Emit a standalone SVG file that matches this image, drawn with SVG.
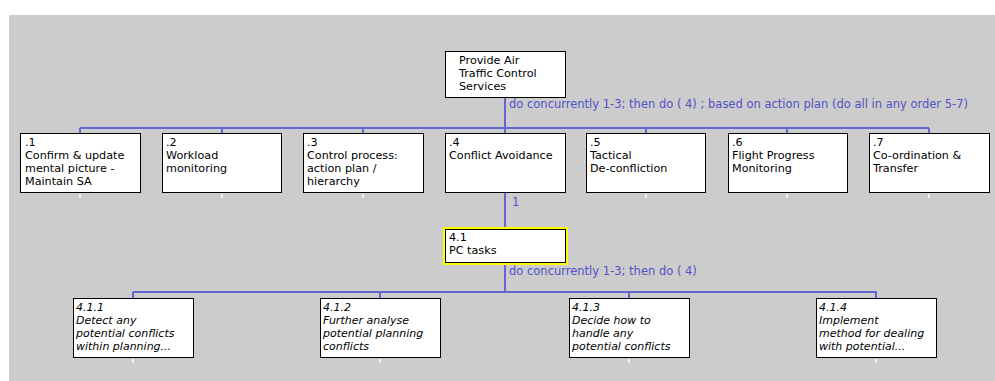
<svg xmlns="http://www.w3.org/2000/svg" width="995" height="381" viewBox="0 0 995 381">
<defs>
<style>
.bg{fill:#cccccc}
.box{fill:#ffffff;stroke:#000000;stroke-width:1}
.t{font-family:"DejaVu Sans",Verdana,sans-serif;font-size:11.2px;fill:#000000}
.it{font-style:italic;font-size:11px}
.lbl{font-family:"DejaVu Sans",Verdana,sans-serif;font-size:11.5px;fill:#5252c8}
.c{fill:none;stroke:#6666d0;stroke-width:2}
.tick{fill:#f2f2f2}
</style>
</defs>
<rect class="bg" x="9" y="15" width="986" height="366"/>
<g id="connectors">
<path class="c" d="M505 98V128M80 128H929M80 128V133M222 128V133M363 128V133M505 128V133M646 128V133M787 128V133M929 128V133"/>
<path class="c" d="M505 193V229"/>
<path class="c" d="M505 264V292M133 292H877M133 292V298M380 292V298M629 292V298M876 292V298"/>
<text class="lbl" x="509" y="108">do concurrently 1-3; then do ( 4) ; based on action plan (do all in any order 5-7)</text>
<text class="lbl" x="512" y="206">1</text>
<text class="lbl" x="509" y="275">do concurrently 1-3; then do ( 4)</text>
</g>
<g id="ticks">
<rect class="tick" x="79" y="194" width="2" height="4"/>
<rect class="tick" x="221" y="194" width="2" height="4"/>
<rect class="tick" x="362" y="194" width="2" height="4"/>
<rect class="tick" x="645" y="194" width="2" height="4"/>
<rect class="tick" x="786" y="194" width="2" height="4"/>
<rect class="tick" x="928" y="194" width="2" height="4"/>
<rect class="tick" x="132" y="359" width="2" height="4"/>
<rect class="tick" x="379" y="359" width="2" height="4"/>
<rect class="tick" x="628" y="359" width="2" height="4"/>
<rect class="tick" x="875" y="359" width="2" height="4"/>
</g>
<g id="n0">
<rect class="box" x="445.5" y="51.5" width="120" height="46"/>
<text class="t" x="459" y="64">Provide Air</text>
<text class="t" x="459" y="77">Traffic Control</text>
<text class="t" x="459" y="90">Services</text>
</g>
<g id="n1">
<rect class="box" x="20.5" y="133.5" width="120" height="59"/>
<text class="t" x="25" y="146">.1</text>
<text class="t" x="25" y="159">Confirm &amp; update</text>
<text class="t" x="25" y="172">mental picture -</text>
<text class="t" x="25" y="185">Maintain SA</text>
</g>
<g id="n2">
<rect class="box" x="162.5" y="133.5" width="119" height="59"/>
<text class="t" x="166" y="146">.2</text>
<text class="t" x="166" y="159">Workload</text>
<text class="t" x="166" y="172">monitoring</text>
</g>
<g id="n3">
<rect class="box" x="303.5" y="133.5" width="120" height="59"/>
<text class="t" x="307" y="146">.3</text>
<text class="t" x="307" y="159">Control process:</text>
<text class="t" x="307" y="172">action plan /</text>
<text class="t" x="307" y="185">hierarchy</text>
</g>
<g id="n4">
<rect class="box" x="445.5" y="133.5" width="120" height="59"/>
<text class="t" x="449" y="146">.4</text>
<text class="t" x="449" y="159">Conflict Avoidance</text>
</g>
<g id="n5">
<rect class="box" x="586.5" y="133.5" width="119" height="59"/>
<text class="t" x="590" y="146">.5</text>
<text class="t" x="590" y="159">Tactical</text>
<text class="t" x="590" y="172">De-confliction</text>
</g>
<g id="n6">
<rect class="box" x="728.5" y="133.5" width="119" height="59"/>
<text class="t" x="732" y="146">.6</text>
<text class="t" x="732" y="159">Flight Progress</text>
<text class="t" x="732" y="172">Monitoring</text>
</g>
<g id="n7">
<rect class="box" x="869.5" y="133.5" width="120" height="59"/>
<text class="t" x="873" y="146">.7</text>
<text class="t" x="873" y="159">Co-ordination &amp;</text>
<text class="t" x="873" y="172">Transfer</text>
</g>
<g id="n41">
<rect x="444" y="228" width="123" height="36" fill="none" stroke="#ffff00" stroke-width="2"/>
<rect class="box" x="445.5" y="229.5" width="120" height="33"/>
<text class="t" x="449" y="241">4.1</text>
<text class="t" x="449" y="254">PC tasks</text>
</g>
<g id="n411">
<rect class="box" x="73.5" y="298.5" width="120" height="59"/>
<text class="t it" x="76" y="311">4.1.1</text>
<text class="t it" x="76" y="324">Detect any</text>
<text class="t it" x="76" y="337">potential conflicts</text>
<text class="t it" x="76" y="350">within planning...</text>
</g>
<g id="n412">
<rect class="box" x="320.5" y="298.5" width="120" height="59"/>
<text class="t it" x="323" y="311">4.1.2</text>
<text class="t it" x="323" y="324">Further analyse</text>
<text class="t it" x="323" y="337">potential planning</text>
<text class="t it" x="323" y="350">conflicts</text>
</g>
<g id="n413">
<rect class="box" x="569.5" y="298.5" width="120" height="59"/>
<text class="t it" x="572" y="311">4.1.3</text>
<text class="t it" x="572" y="324">Decide how to</text>
<text class="t it" x="572" y="337">handle any</text>
<text class="t it" x="572" y="350">potential conflicts</text>
</g>
<g id="n414">
<rect class="box" x="816.5" y="298.5" width="120" height="59"/>
<text class="t it" x="819" y="311">4.1.4</text>
<text class="t it" x="819" y="324">Implement</text>
<text class="t it" x="819" y="337">method for dealing</text>
<text class="t it" x="819" y="350">with potential...</text>
</g>
</svg>
